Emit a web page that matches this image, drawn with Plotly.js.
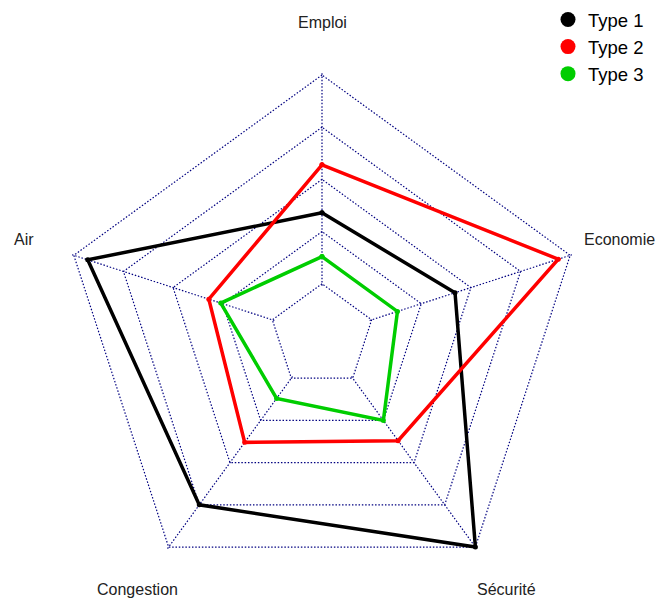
<!DOCTYPE html>
<html>
<head>
<meta charset="utf-8">
<script src="https://cdn.plot.ly/plotly-3.0.1.min.js"></script>
<style>html,body{margin:0;padding:0;background:#fff;}#chart{width:656px;height:599px;}</style>
</head>
<body>
<div id="chart"></div>
<script>
// Axes in fmsb order (counter-clockwise from top)
var categories = ["Emploi", "Air", "Congestion", "Sécurité", "Economie"];
var seriesNames = ["Type 1", "Type 2", "Type 3"];
var type1 = [34, 93, 75, 100, 42];
var type2 = [57, 32, 38, 37, 94];
var type3 = [13, 26, 12, 25, 13];
var scaleMin = 0, scaleMax = 100;
var gridTicks = [0, 25, 50, 75, 100];
var colors = ["#000000", "#FF0000", "#00CD00"];

var W = 656, H = 599;
var cx = 322, cy = 336, R = 261, holeFrac = 0.2;
// pad the radial range slightly so the edge grid pentagons are drawn,
// and enlarge the polar area so that scaleMin/scaleMax land on the wanted radii
var eps = 1;
var k = (1 - holeFrac) * R / (scaleMax - scaleMin);
var Rp = R + eps * k;
var holeP = (holeFrac * R - eps * k) / Rp;

var allSeries = [type1, type2, type3];
var traces = [];
allSeries.forEach(function (vals, i) {
  traces.push({
    type: "scatterpolar",
    r: vals.concat([vals[0]]),
    theta: categories.concat([categories[0]]),
    mode: "lines+markers",
    line: {color: colors[i], width: 3.5},
    marker: {color: colors[i], size: 5},
    showlegend: false,
    hoverinfo: "skip"
  });
});
// legend entries (circle symbols)
seriesNames.forEach(function (nm, i) {
  traces.push({
    type: "scatterpolar",
    r: [null], theta: [categories[0]],
    mode: "markers",
    marker: {color: colors[i], size: 15, symbol: "circle"},
    name: nm,
    showlegend: true
  });
});

var annotations = categories.map(function (c, i) {
  var ang = (90 + 72 * i) * Math.PI / 180;
  var px = cx + 1.2 * R * Math.cos(ang);
  var py = cy - 1.2 * R * Math.sin(ang);
  return {
    text: c, xref: "paper", yref: "paper",
    x: px / W, y: 1 - py / H,
    xanchor: "center", yanchor: "middle",
    showarrow: false,
    font: {family: "Liberation Sans, Arial, sans-serif", size: 16, color: "#222"}
  };
});

var layout = {
  width: W, height: H,
  margin: {l: 0, r: 0, t: 0, b: 0},
  paper_bgcolor: "#ffffff",
  plot_bgcolor: "#ffffff",
  showlegend: true,
  legend: {
    x: 548 / W, y: 1 - 1 / H, xanchor: "left", yanchor: "top",
    font: {family: "Liberation Sans, Arial, sans-serif", size: 18.5, color: "#000"},
    bgcolor: "rgba(0,0,0,0)", tracegroupgap: 0
  },
  polar: {
    domain: {x: [(cx - Rp) / W, (cx + Rp) / W], y: [1 - (cy + Rp) / H, 1 - (cy - Rp) / H]},
    hole: holeP,
    gridshape: "linear",
    bgcolor: "#ffffff",
    radialaxis: {
      range: [scaleMin - eps, scaleMax + eps],
      tickvals: gridTicks,
      showticklabels: false,
      ticks: "",
      showline: false,
      gridcolor: "#000080",
      gridwidth: 1.2,
      griddash: "1.5px,1.8px"
    },
    angularaxis: {
      direction: "counterclockwise",
      rotation: 90,
      showticklabels: false,
      ticks: "",
      showline: false,
      gridcolor: "#000080",
      gridwidth: 1.2,
      griddash: "1.5px,1.8px"
    }
  },
  annotations: annotations
};

Plotly.newPlot("chart", traces, layout, {displayModeBar: false, staticPlot: true});
</script>
</body>
</html>
